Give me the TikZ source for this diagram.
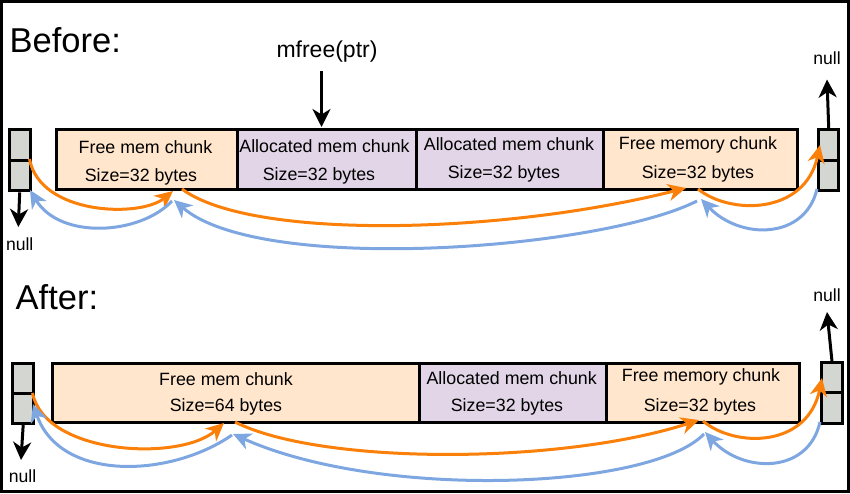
\documentclass[tikz,border=0pt]{standalone}
\usepackage{fontspec}
\setmainfont{Liberation Sans}
\usetikzlibrary{arrows.meta}
\definecolor{peach}{RGB}{255,230,204}
\definecolor{lilac}{RGB}{225,213,231}
\definecolor{cellgray}{RGB}{212,215,209}
\definecolor{orng}{RGB}{250,128,10}
\definecolor{blu}{RGB}{126,166,224}
\begin{document}
\begin{tikzpicture}[x=1pt,y=1pt,
  chunk/.style={draw=black, line width=3.4pt, inner sep=0pt, anchor=north west, minimum height=60pt},
  cell/.style={draw=black, line width=3.4pt, fill=cellgray, inner sep=0pt, minimum width=21pt, minimum height=30.5pt, anchor=north west},
  txt/.style={anchor=base, inner sep=0pt, font=\fontsize{17.8}{20}\selectfont},
  nulltxt/.style={anchor=base, inner sep=0pt, font=\fontsize{17.6}{20}\selectfont},
  title/.style={anchor=base west, inner sep=0pt, font=\fontsize{34.5}{40}\selectfont},
  blk/.style={-{Stealth[length=18pt,width=18pt,inset=5.5pt]}, line width=3pt},
  olink/.style={-{Stealth[length=18pt,width=17pt,inset=5.5pt]}, line width=3pt, draw=orng},
  blink/.style={-{Stealth[length=18pt,width=17pt,inset=5.5pt]}, line width=3pt, draw=blu}]
\useasboundingbox (0,0) rectangle (850,-493);
\draw[line width=3.4pt] (1.7,-1.7) rectangle (848.3,-491.3);

% ---------- Before ----------
\node[title] (before) at (9.5,-52) {Before:};
\node[anchor=base, inner sep=0pt, font=\fontsize{23}{26}\selectfont] (mfree) at (327,-57) {mfree(ptr)};

\node[chunk, fill=peach, minimum width=180.5pt] (b1) at (55,-128) {};
\node[chunk, fill=lilac, minimum width=179.5pt] (b2) at (235.5,-128) {};
\node[chunk, fill=lilac, minimum width=186.5pt] (b3) at (415,-128) {};
\node[chunk, fill=peach, minimum width=194pt] (b4) at (601.5,-128) {};

\node[txt] (b1a) at (145.5,-153) {Free mem chunk};
\node[txt] (b1b) at (141,-181) {Size=32 bytes};
\node[txt] (b2a) at (324.5,-152.7) {Allocated mem chunk};
\node[txt] (b2b) at (319,-180.7) {Size=32 bytes};
\node[txt] (b3a) at (509,-150.7) {Allocated mem chunk};
\node[txt] (b3b) at (504,-178.3) {Size=32 bytes};
\node[txt] (b4a) at (698,-149) {Free memory chunk};
\node[txt] (b4b) at (698,-178.3) {Size=32 bytes};

\node[cell] (blt) at (7.5,-128) {};
\node[cell] (blb) at (7.5,-158.5) {};
\node[cell, minimum width=20pt] (brt) at (817,-128) {};
\node[cell, minimum width=20pt] (brb) at (817,-158.5) {};

\node[nulltxt] (bnullr) at (827,-64) {null};
\node[nulltxt] (bnulll) at (19.7,-250) {null};
\coordinate (bnr) at (827,-79.5);
\coordinate (bnl) at (18.3,-227);
\draw[blk] (brt.north) -- (bnr);
\draw[blk] (blb.south) -- (bnl);
\coordinate (mf1) at (321.5,-71);
\coordinate (mf2) at (321.5,-127);
\draw[blk] (mf1) -- (mf2);

% orange links (before)
\coordinate (bo1s) at (29.5,-159);
\coordinate (bo1e) at (173,-191);
\coordinate (bo2s) at (182,-189);
\coordinate (bo2e) at (686,-188);
\coordinate (bo3s) at (698,-189);
\coordinate (bo3e) at (820,-145);
\draw[olink] (bo1s) .. controls (40,-215) and (140,-218) .. (bo1e);
\draw[olink] (bo2s) .. controls (250,-240) and (500,-235) .. (bo2e);
\draw[olink] (bo3s) .. controls (730,-215) and (805,-215) .. (bo3e);
% blue links (before)
\coordinate (bb1s) at (817,-189);
\coordinate (bb1e) at (701,-199);
\coordinate (bb2s) at (697,-201);
\coordinate (bb2e) at (174,-200);
\coordinate (bb3s) at (172,-201);
\coordinate (bb3e) at (30,-190);
\draw[blink] (bb1s) .. controls (805,-240) and (740,-240) .. (bb1e);
\draw[blink] (bb2s) .. controls (600,-250) and (260,-275) .. (bb2e);
\draw[blink] (bb3s) .. controls (140,-235) and (60,-240) .. (bb3e);

% ---------- After ----------
\node[title] (after) at (15.5,-309) {After:};

\node[chunk, fill=peach, minimum width=367pt, minimum height=59pt] (a1) at (51,-362) {};
\node[chunk, fill=lilac, minimum width=187pt, minimum height=59pt] (a2) at (418,-362) {};
\node[chunk, fill=peach, minimum width=193pt, minimum height=59pt] (a3) at (605,-362) {};

\node[txt] (a1a) at (226,-385.7) {Free mem chunk};
\node[txt] (a1b) at (226,-411.7) {Size=64 bytes};
\node[txt] (a2a) at (511.7,-384.3) {Allocated mem chunk};
\node[txt] (a2b) at (507,-411.7) {Size=32 bytes};
\node[txt] (a3a) at (701,-381.7) {Free memory chunk};
\node[txt] (a3b) at (700,-411) {Size=32 bytes};

\node[cell] (alt) at (11,-362) {};
\node[cell, minimum height=29.5pt] (alb) at (11,-392) {};
\node[cell, minimum width=20.5pt] (art) at (820,-361) {};
\node[cell, minimum width=20.5pt] (arb) at (820,-391) {};

\node[nulltxt] (anullr) at (827,-301.7) {null};
\node[nulltxt] (anulll) at (22.5,-482.7) {null};
\coordinate (anr) at (827,-312);
\coordinate (anl) at (21,-460);
\draw[blk] (art.north) -- (anr);
\draw[blk] (alb.south) -- (anl);

% orange links (after)
\coordinate (ao1s) at (32.5,-393);
\coordinate (ao1e) at (224,-423);
\coordinate (ao2s) at (235,-422);
\coordinate (ao2e) at (699,-420);
\coordinate (ao3s) at (703,-421);
\coordinate (ao3e) at (822,-378);
\draw[olink] (ao1s) .. controls (45,-455) and (180,-462) .. (ao1e);
\draw[olink] (ao2s) .. controls (320,-465) and (560,-465) .. (ao2e);
\draw[olink] (ao3s) .. controls (735,-448) and (808,-448) .. (ao3e);
% blue links (after)
\coordinate (ab1s) at (820,-422);
\coordinate (ab1e) at (705,-432);
\coordinate (ab2s) at (704,-434);
\coordinate (ab2e) at (233,-434);
\coordinate (ab3s) at (232,-435);
\coordinate (ab3e) at (33,-404);
\draw[blink] (ab1s) .. controls (808,-475) and (742,-473) .. (ab1e);
\draw[blink] (ab2s) .. controls (650,-490) and (380,-500) .. (ab2e);
\draw[blink] (ab3s) .. controls (170,-478) and (60,-482) .. (ab3e);
\end{tikzpicture}
\end{document}
